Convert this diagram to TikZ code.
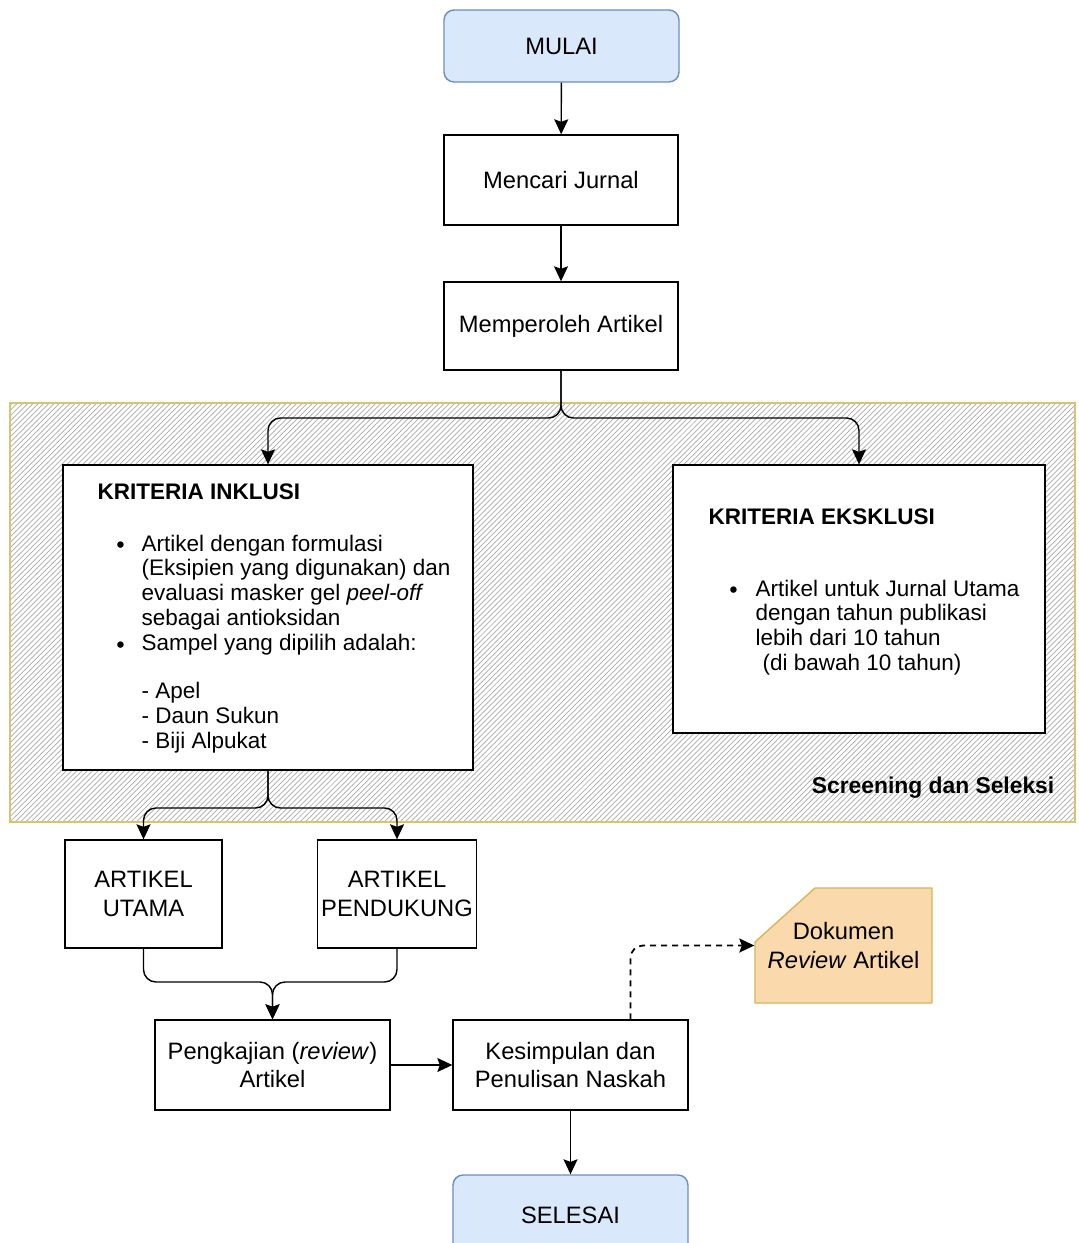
\documentclass[tikz,border=0pt]{standalone}
\usepackage{fontspec}
\setmainfont{Liberation Sans}
\usepackage{tikz}
\usetikzlibrary{arrows.meta,patterns,calc}
\definecolor{startfill}{HTML}{DAE8FC}
\definecolor{startline}{HTML}{6C8EBF}
\definecolor{docfill}{HTML}{FAD9AC}
\definecolor{docline}{HTML}{D6B656}
\definecolor{arealine}{HTML}{D6C476}

\begin{document}
\begin{tikzpicture}[x=0.02cm, y=-0.02cm, line width=0.8pt, >={Stealth[length=0.3cm,width=0.28cm,inset=0.05cm]}]
      \tikzstyle{box}=[draw, fill=white, align=center, inner sep=2pt, font=\fontsize{13.5}{16}\selectfont]
      \tikzstyle{terminal}=[box, rounded corners=0.2cm, fill=startfill, draw=startline, minimum width=4.7cm]
      \tikzstyle{process}=[box, minimum width=4.68cm, minimum height=1.8cm]
      \tikzstyle{crit head}=[anchor=west, inner sep=0pt, font=\fontsize{12.8}{14.2}\selectfont\bfseries]
      \tikzstyle{crit text}=[anchor=north west, align=left, inner sep=0pt, font=\fontsize{12.8}{14.2}\selectfont]
      \tikzstyle{flow}=[->, rounded corners=0.25cm]

      \clip (0,0) rectangle (1078,1243);
      \fill[white] (0,0) rectangle (1078,1243);

      % area screening
      \node[draw=arealine, pattern=north east lines, pattern color=gray!65, minimum width=21.3cm, minimum height=8.38cm, inner sep=0pt] (screen) at (542.5,612.5) {};
      \node[anchor=east, inner sep=0pt, font=\fontsize{13}{15}\selectfont\bfseries] (screenlbl) at (1055,788) {Screening dan Seleksi};

      \node[terminal, minimum height=1.44cm] (mulai) at (561.5,46) {MULAI};
      \node[process] (cari) at (561,180) {Mencari Jurnal};
      \node[process, minimum height=1.76cm] (oleh) at (561,326) {Memperoleh Artikel};

      % kriteria
      \node[process, minimum width=8.2cm, minimum height=6.1cm] (inklusi) at (268,617.5) {};
      \node[process, minimum width=7.44cm, minimum height=5.36cm] (eksklusi) at (859,599) {};

      \node[crit head] (inhead) at (97,492) {KRITERIA INKLUSI};
      \node[crit head] (inbul1) at (116,547) {\textbullet};
      \node[crit head] (inbul2) at (116,647) {\textbullet};
      \node[crit text] (intext) at (141,534) {Artikel dengan formulasi\\(Eksipien yang digunakan) dan\\evaluasi masker gel \textit{peel-off}\\sebagai antioksidan\\Sampel yang dipilih adalah:\\[0.45cm]- Apel\\- Daun Sukun\\- Biji Alpukat};

      \node[crit head] (exhead) at (708,517) {KRITERIA EKSKLUSI};
      \node[crit head] (exbul) at (729,592) {\textbullet};
      \node[crit text] (extext) at (755,579) {Artikel untuk Jurnal Utama\\dengan tahun publikasi\\lebih dari 10 tahun\\\hspace*{0.14cm}(di bawah 10 tahun)};

      % artikel
      \node[process, minimum width=3.14cm, minimum height=2.16cm] (utama) at (143.5,894) {ARTIKEL\\UTAMA};
      \node[process, minimum width=3.12cm, minimum height=2.16cm] (dukung) at (397,894) {ARTIKEL\\PENDUKUNG};
      \node[process, minimum width=4.7cm] (kaji) at (272.5,1065) {Pengkajian (\textit{review})\\Artikel};
      \node[process, minimum width=4.7cm] (simpul) at (570.5,1065) {Kesimpulan dan\\Penulisan Naskah};
      \node[terminal, minimum height=1.6cm] (selesai) at (570.5,1215) {SELESAI};

      % dokumen
      \filldraw[fill=docfill, draw=docline] (755,942) -- (815,888) -- (932,888) -- (932,1003) -- (755,1003) -- cycle;
      \node[align=center, inner sep=0pt, minimum width=3.54cm, minimum height=2.3cm, font=\fontsize{13.5}{16}\selectfont] (dokumen) at (843.5,945.5) {Dokumen\\\textit{Review} Artikel};

      % panah
      \coordinate (split) at (561,418);
      \coordinate (split2) at (268,808);
      \coordinate (merge) at (272.5,982);
      \draw[->] (mulai) -- (cari);
      \draw[->] (cari) -- (oleh);
      \draw[flow] (oleh) -- (split) -| (inklusi);
      \draw[flow] (oleh) -- (split) -| (eksklusi);
      \draw[flow] (inklusi) -- (split2) -| (utama);
      \draw[flow] (inklusi) -- (split2) -| (dukung);
      \draw[flow] (utama) |- (merge) -- (kaji);
      \draw[flow] (dukung) |- (merge) -- (kaji);
      \draw[->] (kaji) -- (simpul);
      \draw[->] (simpul) -- (selesai);
      \draw[flow, line width=1pt, dash pattern=on 0.12cm off 0.1cm] ($(simpul.north)+(60,0)$) |- (dokumen);
  \end{tikzpicture}
\end{document}
